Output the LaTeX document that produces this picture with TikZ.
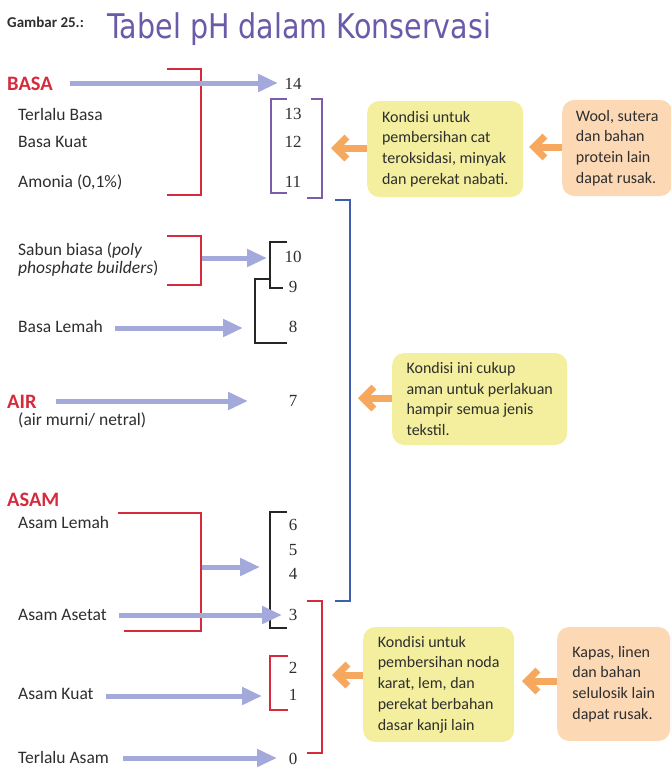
\documentclass[tikz,border=0pt]{standalone}
\usepackage{fontspec}
\setmainfont{Carlito}
\newfontfamily\numfont{Liberation Serif}
\newfontfamily\titlefont[FakeStretch=0.84]{DejaVu Sans}
\usetikzlibrary{arrows.meta}

\definecolor{phred}{HTML}{D62A3D}
\definecolor{pharrow}{HTML}{A3AADB}
\definecolor{phpurple}{HTML}{7D5CA9}
\definecolor{phblue}{HTML}{3F5EAB}
\definecolor{phtitle}{HTML}{6A5AA8}
\definecolor{phyellow}{HTML}{F3EF9E}
\definecolor{phpeach}{HTML}{FCD8B4}
\definecolor{phorange}{HTML}{F6A95E}
\definecolor{phtext}{HTML}{2E2E2E}

\tikzset{
  lbl/.style={anchor=base west, inner sep=0pt, text=phtext, font=\fontsize{17.5}{21}\selectfont},
  grouphead/.style={anchor=base west, inner sep=0pt, text=phred, font=\fontsize{20.5}{24}\selectfont\bfseries},
  num/.style={anchor=base, inner sep=0pt, text=phtext, font=\numfont\fontsize{17}{20}\selectfont},
  phar/.style={pharrow, line width=5pt, -{Triangle[length=20pt,width=17pt]}},
  orar/.style={phorange, line width=7pt, -{Straight Barb[length=11pt,width=22pt]}},
  redbr/.style={phred, line width=2.6pt},
  blackbr/.style={black!85, line width=1.7pt},
  infobox/.style={anchor=west, rounded corners=12pt, fill=phyellow, align=left, inner sep=0pt,
    text=phtext, font=\fontsize{16}{20.7}\selectfont},
  dmgbox/.style={infobox, fill=phpeach}
}

\begin{document}
\begin{tikzpicture}[x=1pt,y=-1pt]
\useasboundingbox (0,0) rectangle (671,782);

% title
\node[anchor=base west, inner sep=0pt, text=phtext, font=\fontsize{15}{18}\selectfont\bfseries] (gambar) at (7,27) {Gambar 25.:};
\node[anchor=base west, inner sep=0pt, text=phtitle, font=\titlefont\fontsize{34}{40}\selectfont] (title) at (107,38) {Tabel pH dalam Konservasi};

% left labels
\node[grouphead] (basa) at (7,90) {BASA};
\node[lbl] (terlalubasa) at (18,120) {Terlalu Basa};
\node[lbl] (basakuat) at (18,147) {Basa Kuat};
\node[lbl] (amonia) at (18,187) {Amonia (0,1\%)};
\node[lbl] (sabun) at (18,255) {Sabun biasa (\textit{poly}};
\node[lbl] (sabunb) at (18,273.5) {\textit{phosphate builders})};
\node[lbl] (basalemah) at (18,332) {Basa Lemah};
\node[grouphead] (air) at (7,408) {AIR};
\node[lbl] (airmurni) at (18,425) {(air murni/ netral)};
\node[grouphead] (asam) at (7,506) {ASAM};
\node[lbl] (asamlemah) at (18,528) {Asam Lemah};
\node[lbl] (asamasetat) at (18,620) {Asam Asetat};
\node[lbl] (asamkuat) at (18,699) {Asam Kuat};
\node[lbl] (terlaluasam) at (18,763) {Terlalu Asam};

% pH scale
\foreach \v/\y in {14/89,13/119,12/147,11/187,10/262,9/292,8/332,7/406,6/530,5/555,4/579,3/620,2/673,1/700,0/764}
  \node[num] (n\v) at (293,\y) {\v};

% brackets
\draw[redbr] (167,69) -| (201,195) -- (167,195);
\draw[redbr] (167,236) -| (201,285) -- (167,285);
\draw[redbr] (118,513) -| (201,631) -- (124,631);
\draw[phpurple, line width=2pt] (287,99) -- (271,99) -- (271,193) -- (287,193);
\draw[phpurple, line width=2pt] (311,99) -- (322,99) -- (322,198) -- (307,198);
\draw[blackbr] (287,242) -- (270,242) -- (270,288) -- (283,288);
\draw[blackbr] (270,279) -- (255,279) -- (255,343) -- (287,343);
\draw[blackbr] (287,512) -- (270,512) -- (270,628) -- (287,628);
\draw[phred, line width=2pt] (288,656) -- (270,656) -- (270,710) -- (288,710);
\draw[phred, line width=2.2pt] (307,601) -- (322,601) -- (322,753) -- (307,753);
\draw[phblue, line width=2.6pt] (335,200) -- (350,200) -- (350,601) -- (335,601);

% arrows to the scale
\coordinate (e14) at (278,83);
\coordinate (sabunbr) at (202,258);
\coordinate (e109) at (267,258);
\coordinate (e8) at (243,328);
\coordinate (e7) at (248,401);
\coordinate (asambr) at (202,567);
\coordinate (e64) at (260,567);
\coordinate (e3) at (282,615);
\coordinate (e21) at (262,696);
\coordinate (e0) at (277,758);
\draw[phar] ([xshift=17pt]basa.east |- e14) -- (e14);
\draw[phar] (sabunbr) -- (e109);
\draw[phar] ([xshift=12pt]basalemah.east |- e8) -- (e8);
\draw[phar] ([xshift=19pt]air.east |- e7) -- (e7);
\draw[phar] (asambr) -- (e64);
\draw[phar] ([xshift=12pt]asamasetat.east |- e3) -- (e3);
\draw[phar] ([xshift=12pt]asamkuat.east |- e21) -- (e21);
\draw[phar] ([xshift=14pt]terlaluasam.east |- e0) -- (e0);

% notes
\node[infobox, minimum width=156pt, minimum height=96pt] (cond1) at (367,149)
  {Kondisi untuk\\pembersihan cat\\teroksidasi, minyak\\dan perekat nabati.};
\node[dmgbox, minimum width=110pt, minimum height=96pt] (wool) at (562,148)
  {Wool, sutera\\dan bahan\\protein lain\\dapat rusak.};
\node[infobox, minimum width=175pt, minimum height=92pt] (cond2) at (392,399)
  {Kondisi ini cukup\\aman untuk perlakuan\\hampir semua jenis\\tekstil.};
\node[infobox, minimum width=151pt, minimum height=115pt] (cond3) at (363,684.5)
  {Kondisi untuk\\pembersihan noda\\karat, lem, dan\\perekat berbahan\\dasar kanji lain};
\node[dmgbox, minimum width=113pt, minimum height=114pt] (kapas) at (557,684)
  {Kapas, linen\\dan bahan\\selulosik lain\\dapat rusak.};

\coordinate (o1) at (331,148);
\coordinate (o2) at (529,147);
\coordinate (o3) at (358,398);
\coordinate (o4) at (332,675);
\coordinate (o5) at (522,681);
\draw[orar] (o1 -| cond1.west) -- (o1);
\draw[orar] (o2 -| wool.west) -- (o2);
\draw[orar] (o3 -| cond2.west) -- (o3);
\draw[orar] (o4 -| cond3.west) -- (o4);
\draw[orar] (o5 -| kapas.west) -- (o5);
\end{tikzpicture}
\end{document}
